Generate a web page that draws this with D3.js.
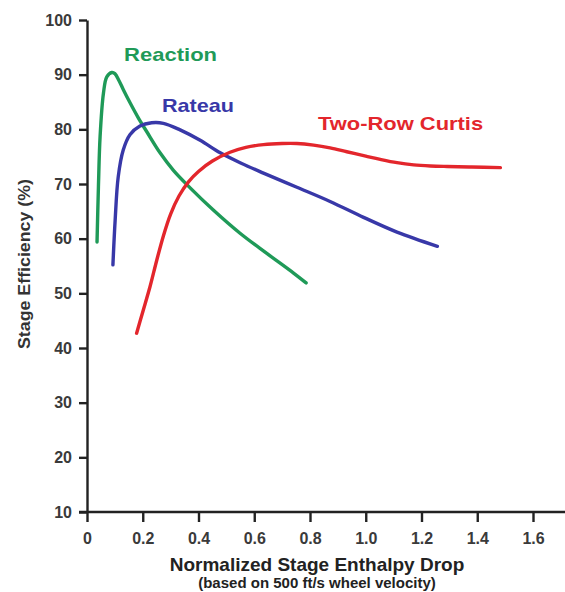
<!DOCTYPE html>
<html>
<head>
<meta charset="utf-8">
<script src="https://cdn.jsdelivr.net/npm/d3@7"></script>
<style>
  body { margin: 0; background: #fff; }
  svg { display: block; font-family: "Liberation Sans", Arial, sans-serif; }
  .axis path, .axis line { stroke: #222; stroke-width: 2.4px; }
  .axis text { fill: #3a3a3a; font-weight: bold; font-size: 16px; }
</style>
</head>
<body>
<script>
// values
var xTicks = [0, 0.2, 0.4, 0.6, 0.8, 1.0, 1.2, 1.4, 1.6];
var xTickLabels = ["0", "0.2", "0.4", "0.6", "0.8", "1.0", "1.2", "1.4", "1.6"];
var yTicks = [10, 20, 30, 40, 50, 60, 70, 80, 90, 100];

var reactionX = [0.036, 0.041, 0.047, 0.059, 0.071, 0.089, 0.100, 0.115, 0.130, 0.154, 0.184, 0.214, 0.262, 0.310, 0.370, 0.454, 0.549, 0.645, 0.741, 0.786];
var reactionY = [59.4, 69.5, 78.7, 86.6, 89.6, 90.4, 90.2, 88.9, 87.3, 84.9, 82.1, 79.6, 75.7, 72.5, 69.3, 65.2, 61.0, 57.3, 53.7, 51.9];

var rateauX = [0.093, 0.101, 0.112, 0.130, 0.154, 0.190, 0.232, 0.274, 0.334, 0.406, 0.478, 0.553, 0.633, 0.753, 0.872, 0.992, 1.112, 1.257];
var rateauY = [55.2, 63.4, 71.3, 76.2, 79.0, 80.6, 81.2, 81.1, 79.9, 78.0, 75.7, 73.8, 72.0, 69.4, 66.8, 63.9, 61.2, 58.6];

var curtisX = [0.178, 0.200, 0.226, 0.250, 0.274, 0.300, 0.330, 0.364, 0.400, 0.450, 0.513, 0.570, 0.633, 0.700, 0.753, 0.813, 0.872, 0.932, 1.000, 1.052, 1.112, 1.172, 1.232, 1.292, 1.380, 1.483];
var curtisY = [42.7, 46.6, 51.2, 56.0, 60.5, 64.5, 67.8, 70.4, 72.3, 74.2, 75.8, 76.7, 77.2, 77.4, 77.4, 77.1, 76.6, 75.9, 75.1, 74.5, 73.9, 73.5, 73.3, 73.2, 73.1, 73.0];

var seriesNames = ["Reaction", "Rateau", "Two-Row Curtis"];
var seriesColors = ["#1f9a58", "#3838a8", "#e3262c"];

var W = 565, H = 592;
var svg = d3.select("body").append("svg").attr("width", W).attr("height", H);

var x = d3.scaleLinear().domain([0, 1.6]).range([87, 533]);
var y = d3.scaleLinear().domain([10, 100]).range([512, 20]);

// x axis, line runs on to the right edge
var xAxis = d3.axisBottom(x).tickValues(xTicks)
    .tickFormat(function(d, i) { return xTickLabels[i]; })
    .tickSize(10).tickSizeOuter(0).tickPadding(11);
var gx = svg.append("g").attr("class", "axis").attr("transform", "translate(0," + y(10) + ")").call(xAxis);
gx.select(".domain").attr("d", "M" + (x(0) - 8) + ",0H" + W);

var yAxis = d3.axisLeft(y).tickValues(yTicks).tickSize(8).tickSizeOuter(0).tickPadding(7);
var gy = svg.append("g").attr("class", "axis").attr("transform", "translate(" + x(0) + ",0)").call(yAxis);

var line = d3.line()
    .x(function(d) { return x(d[0]); })
    .y(function(d) { return y(d[1]); })
    .curve(d3.curveCatmullRom.alpha(0.5));

var series = [
    d3.zip(reactionX, reactionY),
    d3.zip(rateauX, rateauY),
    d3.zip(curtisX, curtisY)
];

svg.selectAll("path.curve")
    .data(series)
    .enter()
    .append("path")
    .attr("class", "curve")
    .attr("d", line)
    .attr("fill", "none")
    .attr("stroke", function(d, i) { return seriesColors[i]; })
    .attr("stroke-width", 3.4)
    .attr("stroke-linecap", "round");

// series labels (anchor in data units, width)
var labelPos = [[0.133, 92.5], [0.269, 83.2], [0.829, 79.9]];
var labelLen = [93, 72, 165];
svg.selectAll("text.lbl")
    .data(seriesNames)
    .enter()
    .append("text")
    .attr("class", "lbl")
    .attr("x", function(d, i) { return x(labelPos[i][0]); })
    .attr("y", function(d, i) { return y(labelPos[i][1]); })
    .attr("textLength", function(d, i) { return labelLen[i]; })
    .attr("lengthAdjust", "spacingAndGlyphs")
    .attr("fill", function(d, i) { return seriesColors[i]; })
    .style("font-weight", "bold")
    .style("font-size", "19px")
    .text(function(d) { return d; });

// axis titles
svg.append("text")
    .attr("transform", "translate(30,264) rotate(-90)")
    .attr("text-anchor", "middle")
    .attr("fill", "#333")
    .style("font-weight", "bold")
    .style("font-size", "16px")
    .attr("textLength", 170)
    .attr("lengthAdjust", "spacingAndGlyphs")
    .text("Stage Efficiency (%)");

svg.append("text")
    .attr("x", 317).attr("y", 571)
    .attr("text-anchor", "middle")
    .attr("fill", "#222")
    .style("font-weight", "bold")
    .style("font-size", "19px")
    .text("Normalized Stage Enthalpy Drop");

svg.append("text")
    .attr("x", 317).attr("y", 588)
    .attr("text-anchor", "middle")
    .attr("fill", "#222")
    .style("font-weight", "bold")
    .style("font-size", "15px")
    .text("(based on 500 ft/s wheel velocity)");
</script>
</body>
</html>
